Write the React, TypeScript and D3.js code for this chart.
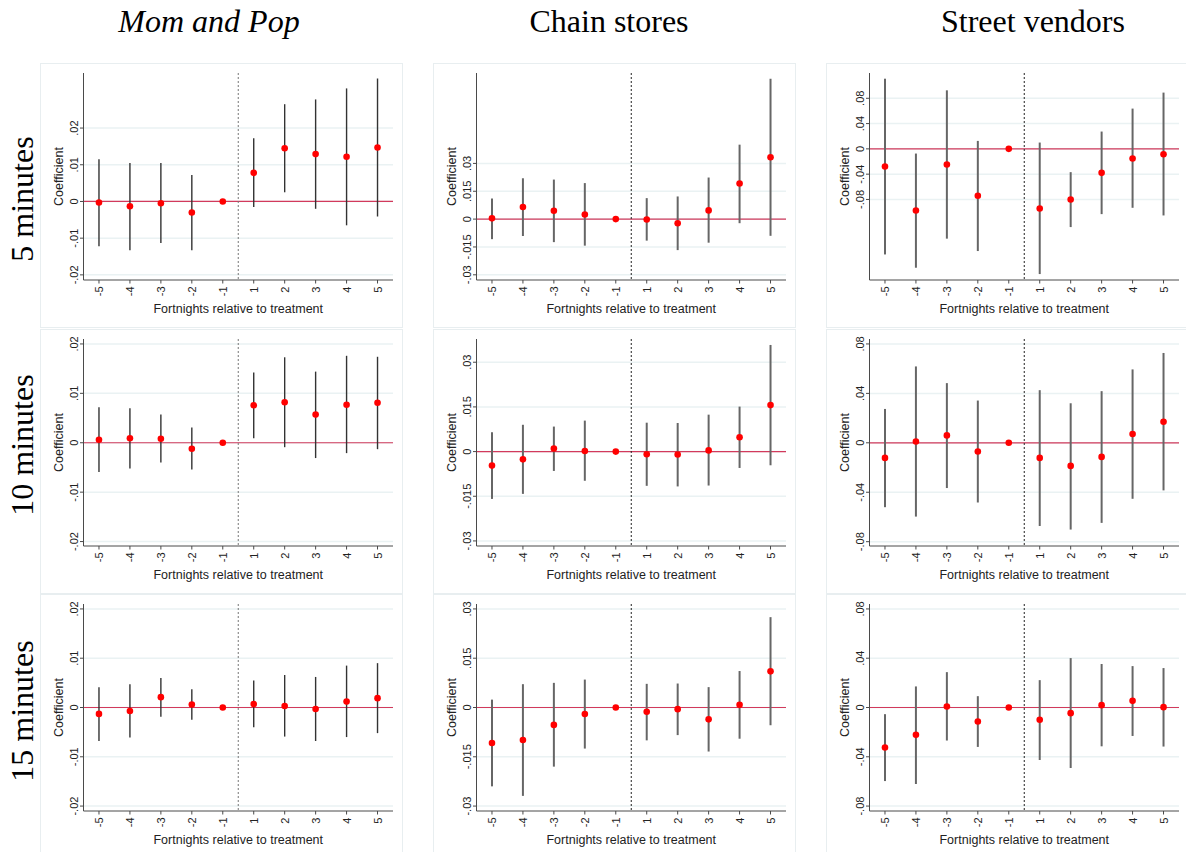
import * as d3 from 'd3';

const periods = ['-5', '-4', '-3', '-2', '-1', '1', '2', '3', '4', '5'];
const colTitles = ['Mom and Pop', 'Chain stores', 'Street vendors'];
const rowTitles = ['5 minutes', '10 minutes', '15 minutes'];

// y ticks per column
const ticksMomPop = [-0.02, -0.01, 0, 0.01, 0.02];
const ticksChain = [-0.03, -0.015, 0, 0.015, 0.03];
const ticksStreet = [-0.08, -0.04, 0, 0.04, 0.08];

// point estimates and 95% CI bounds (reference period -1 = 0, no CI)
const mp5Est = [-0.0003, -0.0013, -0.0005, -0.003, 0, 0.0078, 0.0145, 0.0129, 0.0122, 0.0147];
const mp5Lo = [-0.0122, -0.0133, -0.0113, -0.0133, null, -0.0015, 0.0025, -0.002, -0.0065, -0.0041];
const mp5Hi = [0.0115, 0.0105, 0.0105, 0.0072, null, 0.0172, 0.0265, 0.0278, 0.0308, 0.0335];

const ch5Est = [0.0004, 0.0065, 0.0045, 0.0025, 0, -0.0002, -0.0022, 0.0047, 0.0192, 0.0333];
const ch5Lo = [-0.0108, -0.0091, -0.0124, -0.0143, null, -0.0116, -0.0167, -0.0127, -0.0022, -0.009];
const ch5Hi = [0.0111, 0.022, 0.0213, 0.0194, null, 0.0113, 0.0122, 0.0224, 0.0401, 0.0756];

const sv5Est = [-0.0279, -0.0974, -0.0247, -0.0742, 0, -0.0942, -0.08, -0.0379, -0.0153, -0.0084];
const sv5Lo = [-0.167, -0.188, -0.142, -0.1616, null, -0.198, -0.1237, -0.1032, -0.0932, -0.1053];
const sv5Hi = [0.111, -0.0074, 0.0926, 0.0126, null, 0.01, -0.0368, 0.0274, 0.0637, 0.089];

const mp10Est = [0.0006, 0.0009, 0.0008, -0.0012, 0, 0.0076, 0.0082, 0.0057, 0.0077, 0.0081];
const mp10Lo = [-0.0059, -0.0052, -0.004, -0.0054, null, 0.0009, -0.0009, -0.0031, -0.0021, -0.0013];
const mp10Hi = [0.0072, 0.007, 0.0057, 0.0031, null, 0.0142, 0.0173, 0.0144, 0.0176, 0.0174];

const ch10Est = [-0.0047, -0.0026, 0.001, 0.0002, 0, -0.0009, -0.001, 0.0004, 0.0048, 0.0156];
const ch10Lo = [-0.0159, -0.0142, -0.0065, -0.0098, null, -0.0115, -0.0117, -0.0114, -0.0055, -0.0046];
const ch10Hi = [0.0065, 0.009, 0.0084, 0.0104, null, 0.0097, 0.0096, 0.0124, 0.0151, 0.0358];

const sv10Est = [-0.0122, 0.0011, 0.006, -0.007, 0, -0.0122, -0.0187, -0.0114, 0.0071, 0.0171];
const sv10Lo = [-0.0521, -0.0597, -0.0366, -0.0483, null, -0.0673, -0.0702, -0.0648, -0.0453, -0.0385];
const sv10Hi = [0.0274, 0.0618, 0.0483, 0.0342, null, 0.0426, 0.032, 0.0418, 0.0594, 0.0727];

const mp15Est = [-0.0013, -0.0007, 0.0021, 0.0006, 0, 0.0007, 0.0003, -0.0003, 0.0012, 0.0019];
const mp15Lo = [-0.0068, -0.0061, -0.0019, -0.0025, null, -0.004, -0.0059, -0.0068, -0.006, -0.0052];
const mp15Hi = [0.0041, 0.0047, 0.006, 0.0037, null, 0.0055, 0.0066, 0.0062, 0.0085, 0.009];

const ch15Est = [-0.0108, -0.0099, -0.0053, -0.002, 0, -0.0013, -0.0005, -0.0036, 0.0008, 0.011];
const ch15Lo = [-0.024, -0.0269, -0.018, -0.0125, null, -0.01, -0.0084, -0.0134, -0.0095, -0.0054];
const ch15Hi = [0.0024, 0.0071, 0.0075, 0.0085, null, 0.0072, 0.0073, 0.0062, 0.0111, 0.0275];

const sv15Est = [-0.0325, -0.0222, 0.0008, -0.0114, 0, -0.01, -0.0046, 0.0019, 0.0054, 0.0003];
const sv15Lo = [-0.0597, -0.0621, -0.0268, -0.032, null, -0.0426, -0.0491, -0.0315, -0.0231, -0.0317];
const sv15Hi = [-0.0054, 0.0171, 0.0287, 0.0092, null, 0.0222, 0.0401, 0.0353, 0.0336, 0.032];

// y-axis extents [bottom, top] of each plot region
const domains = [
  [[-0.0214, 0.035], [-0.0328, 0.0787], [-0.2074, 0.12]],
  [[-0.0209, 0.021], [-0.0317, 0.0378], [-0.0835, 0.084]],
  [[-0.021, 0.021], [-0.0315, 0.0315], [-0.084, 0.084]],
];

const series = [
  [[mp5Est, mp5Lo, mp5Hi], [ch5Est, ch5Lo, ch5Hi], [sv5Est, sv5Lo, sv5Hi]],
  [[mp10Est, mp10Lo, mp10Hi], [ch10Est, ch10Lo, ch10Hi], [sv10Est, sv10Lo, sv10Hi]],
  [[mp15Est, mp15Lo, mp15Hi], [ch15Est, ch15Lo, ch15Hi], [sv15Est, sv15Lo, sv15Hi]],
];
const colTicks = [ticksMomPop, ticksChain, ticksStreet];

const frameX = [40, 433, 826];
const frameY = [63, 329, 594];
const frameW = [362, 362, 360];
const frameH = [264, 264, 258];
const titleX = [209, 609, 1033];
const rowLabelY = [199, 445, 711];

const fmt = (v: number) => (v === 0 ? '0' : String(v).replace('0.', '.'));
const sans = 'Liberation Sans, Arial, sans-serif';
const serif = 'Liberation Serif, Times New Roman, serif';

function Panel({ row, col }: { row: number; col: number }) {
  const fx = frameX[col];
  const fy = frameY[row];
  const left = fx + 43.5;
  const right = fx + 353;
  const top = fy + 10;
  const bottom = fy + 217;
  const [est, lo, hi] = series[row][col];

  const x = d3.scalePoint<string>().domain(periods).range([left, right]).padding(0.5);
  const y = d3.scaleLinear().domain(domains[row][col]).range([bottom, top]);
  const xMid = ((x('-1') as number) + (x('1') as number)) / 2;
  const ciColor = col === 0 ? '#333' : '#666';
  const ciWidth = col === 0 ? 1.4 : 2;
  const cx = (right + left) / 2;
  const cy = (top + bottom) / 2;

  return (
    <g>
      <rect x={fx + 0.5} y={fy + 0.5} width={frameW[col]} height={frameH[row]} fill="white" stroke="#e8eef0" />
      {colTicks[col].map((t) => (
        <line key={'g' + t} x1={left} x2={right} y1={y(t)} y2={y(t)} stroke="#eaf2f3" strokeWidth={1.5} />
      ))}
      <line x1={left} x2={right} y1={y(0)} y2={y(0)} stroke="#d23a5c" strokeWidth={1.2} />
      <line x1={xMid} x2={xMid} y1={top} y2={bottom} stroke={col === 0 ? '#777' : '#222'} strokeWidth={1} strokeDasharray="2,2" />
      {periods.map((p, i) =>
        lo[i] == null ? null : (
          <line key={'ci' + p} x1={x(p)} x2={x(p)} y1={y(lo[i] as number)} y2={y(hi[i] as number)} stroke={ciColor} strokeWidth={ciWidth} />
        )
      )}
      {periods.map((p, i) => (
        <circle key={'pt' + p} cx={x(p)} cy={y(est[i])} r={3.3} fill="#ff0000" />
      ))}
      {/* axes */}
      <line x1={left} x2={left} y1={top} y2={bottom} stroke="#4a4a4a" />
      <line x1={left} x2={right} y1={bottom} y2={bottom} stroke="#4a4a4a" />
      {colTicks[col].map((t) => (
        <g key={'yt' + t}>
          <line x1={left - 3.5} x2={left} y1={y(t)} y2={y(t)} stroke="#4a4a4a" />
          <text
            transform={`translate(${left - 6},${y(t)}) rotate(-90)`}
            textAnchor="middle"
            fontFamily={sans}
            fontSize={11}
            fill="#222"
          >
            {fmt(t)}
          </text>
        </g>
      ))}
      {periods.map((p) => (
        <g key={'xt' + p}>
          <line x1={x(p)} x2={x(p)} y1={bottom} y2={bottom + 3.5} stroke="#4a4a4a" />
          <text
            transform={`translate(${(x(p) as number) + 4},${bottom + 6.5}) rotate(-90)`}
            textAnchor="end"
            fontFamily={sans}
            fontSize={11}
            fill="#222"
          >
            {p}
          </text>
        </g>
      ))}
      <text transform={`translate(${left - 21},${cy}) rotate(-90)`} textAnchor="middle" fontFamily={sans} fontSize={12.5} fill="#222">
        Coefficient
      </text>
      <text x={cx} y={bottom + 33} textAnchor="middle" fontFamily={sans} fontSize={12.5} fill="#222">
        Fortnights relative to treatment
      </text>
    </g>
  );
}

export default function App() {
  return (
    <svg width={1186} height={852} style={{ position: 'absolute', left: 0, top: 0, background: 'white' }}>
      <rect width={1186} height={852} fill="white" />
      {colTitles.map((t, i) => (
        <text key={t} x={titleX[i]} y={31.5} textAnchor="middle" fontFamily={serif} fontSize={32} fontStyle={i === 0 ? 'italic' : 'normal'} fill="#000">
          {t}
        </text>
      ))}
      {rowTitles.map((t, i) => (
        <text key={t} transform={`translate(33,${rowLabelY[i]}) rotate(-90)`} textAnchor="middle" fontFamily={serif} fontSize={32} fill="#000">
          {t}
        </text>
      ))}
      {[0, 1, 2].map((r) => [0, 1, 2].map((c) => <Panel key={r + '-' + c} row={r} col={c} />))}
    </svg>
  );
}
